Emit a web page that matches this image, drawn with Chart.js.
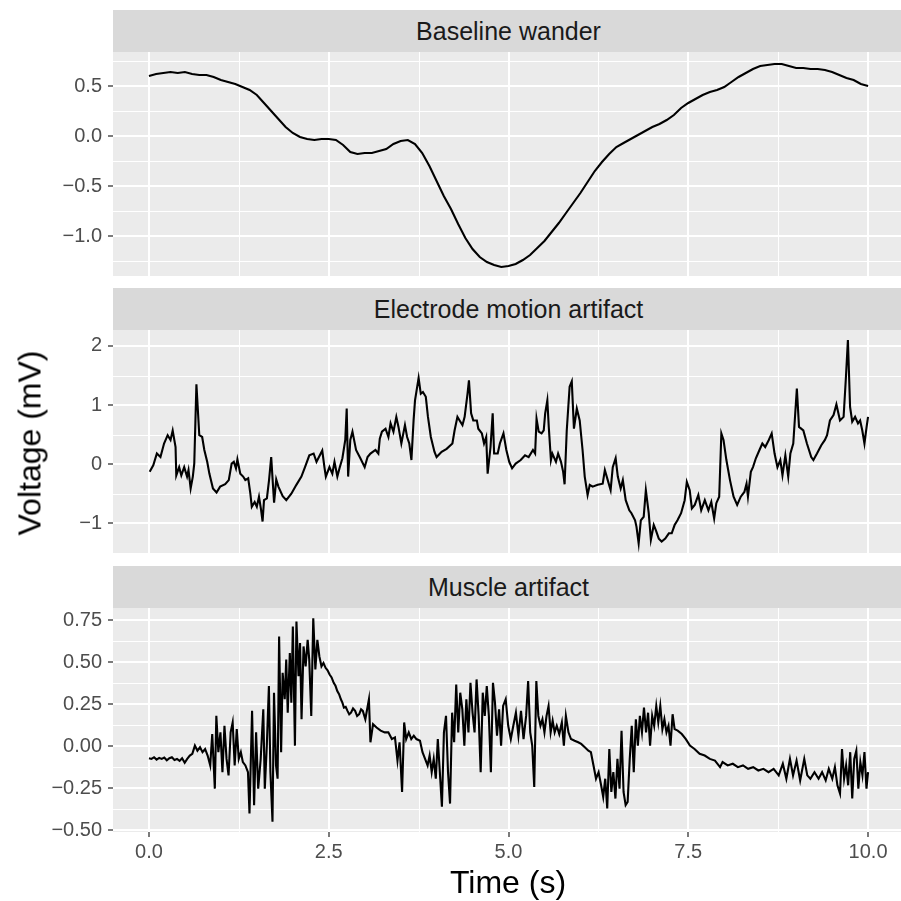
<!DOCTYPE html>
<html>
<head>
<meta charset="utf-8">
<script src="https://cdn.jsdelivr.net/npm/chart.js@4.4.1/dist/chart.umd.min.js"></script>
<style>
  body { margin: 0; width: 901px; height: 901px; overflow: hidden; background: #fff; position: relative;
         font-family: "Liberation Sans", Arial, sans-serif; }
  canvas { position: absolute; left: 0; }
  .strip { position: absolute; left: 113px; width: 791px; height: 42px; background: #D9D9D9; color: #1A1A1A;
           font-size: 25px; line-height: 42px; text-align: center; }
  .title { position: absolute; color: #000; font-size: 32px; white-space: nowrap; }
</style>
</head>
<body>
<div class="strip" style="top:10px">Baseline wander</div>
<canvas id="bwChart" width="904" height="224" style="top:52px"></canvas>
<div class="strip" style="top:288px">Electrode motion artifact</div>
<canvas id="emChart" width="904" height="224" style="top:330px"></canvas>
<div class="strip" style="top:566px">Muscle artifact</div>
<canvas id="msChart" width="904" height="260" style="top:608px"></canvas>
<div class="title" style="left:30px;top:443px;transform:translate(-50%,-50%) rotate(-90deg)">Voltage (mV)</div>
<div class="title" style="left:508px;top:882px;transform:translate(-50%,-50%)">Time (s)</div>
<script>
// x axis
const xTicks = [0, 2.5, 5, 7.5, 10];
const xMinor = [1.25, 3.75, 6.25, 8.75];

// Baseline wander
const bwTime = [
  0.0, 0.1, 0.2, 0.3, 0.4, 0.5, 0.6, 0.7, 0.8, 0.9,
  1.0, 1.1, 1.2, 1.3, 1.4, 1.5, 1.6, 1.7, 1.8, 1.9,
  2.0, 2.1, 2.2, 2.3, 2.4, 2.5, 2.6, 2.7, 2.8, 2.9,
  3.0, 3.1, 3.2, 3.3, 3.4, 3.5, 3.6, 3.7, 3.8, 3.9,
  4.0, 4.1, 4.2, 4.3, 4.4, 4.5, 4.6, 4.7, 4.8, 4.9,
  5.0, 5.1, 5.2, 5.3, 5.4, 5.5, 5.6, 5.7, 5.8, 5.9,
  6.0, 6.1, 6.2, 6.3, 6.4, 6.5, 6.6, 6.7, 6.8, 6.9,
  7.0, 7.1, 7.2, 7.3, 7.4, 7.5, 7.6, 7.7, 7.8, 7.9,
  8.0, 8.1, 8.2, 8.3, 8.4, 8.5, 8.6, 8.7, 8.8, 8.9,
  9.0, 9.1, 9.2, 9.3, 9.4, 9.5, 9.6, 9.7, 9.8, 9.9,
  10.0
];
const bwVolt = [
  0.60, 0.62, 0.63, 0.64, 0.63, 0.64, 0.62, 0.61, 0.61, 0.59,
  0.56, 0.54, 0.52, 0.49, 0.46, 0.41, 0.33, 0.25, 0.17, 0.09,
  0.03, -0.01, -0.03, -0.04, -0.03, -0.03, -0.04, -0.09, -0.16, -0.18,
  -0.17, -0.17, -0.15, -0.13, -0.08, -0.05, -0.04, -0.08, -0.17, -0.30,
  -0.45, -0.60, -0.73, -0.88, -1.02, -1.13, -1.21, -1.26, -1.29, -1.31,
  -1.30, -1.28, -1.24, -1.19, -1.12, -1.05, -0.96, -0.87, -0.77, -0.67,
  -0.57, -0.46, -0.35, -0.26, -0.18, -0.11, -0.07, -0.03, 0.01, 0.05,
  0.09, 0.12, 0.16, 0.21, 0.28, 0.33, 0.37, 0.41, 0.44, 0.46,
  0.49, 0.54, 0.59, 0.63, 0.67, 0.70, 0.71, 0.72, 0.72, 0.70,
  0.68, 0.68, 0.67, 0.67, 0.66, 0.64, 0.61, 0.58, 0.56, 0.52,
  0.50
];
const bwTicks = [-1, -0.5, 0, 0.5];
const bwMinor = [-1.25, -0.75, -0.25, 0.25, 0.75];

// Electrode motion artifact
const emTime = [
  0.01, 0.06, 0.11, 0.16, 0.21, 0.26, 0.30, 0.33, 0.37, 0.38,
  0.42, 0.45, 0.49, 0.53, 0.55, 0.58, 0.61, 0.63, 0.66, 0.70,
  0.74, 0.77, 0.81, 0.84, 0.89, 0.94, 0.99, 1.06, 1.11, 1.15,
  1.18, 1.21, 1.23, 1.27, 1.31, 1.34, 1.38, 1.41, 1.43, 1.47,
  1.50, 1.53, 1.56, 1.58, 1.60, 1.64, 1.67, 1.70, 1.72, 1.74,
  1.77, 1.80, 1.86, 1.91, 1.98, 2.05, 2.12, 2.17, 2.23, 2.29,
  2.33, 2.41, 2.44, 2.46, 2.51, 2.55, 2.58, 2.62, 2.65, 2.69,
  2.73, 2.75, 2.77, 2.80, 2.83, 2.88, 2.94, 3.00, 3.04, 3.08,
  3.15, 3.19, 3.21, 3.24, 3.29, 3.33, 3.36, 3.40, 3.44, 3.47,
  3.51, 3.56, 3.59, 3.62, 3.65, 3.68, 3.70, 3.75, 3.78, 3.81,
  3.85, 3.88, 3.92, 3.97, 4.00, 4.07, 4.14, 4.22, 4.25, 4.29,
  4.32, 4.36, 4.39, 4.43, 4.45, 4.48, 4.51, 4.56, 4.58, 4.63,
  4.66, 4.69, 4.71, 4.75, 4.78, 4.80, 4.85, 4.88, 4.93, 4.97,
  5.01, 5.05, 5.10, 5.17, 5.23, 5.28, 5.34, 5.37, 5.39, 5.42,
  5.46, 5.49, 5.51, 5.54, 5.56, 5.59, 5.61, 5.66, 5.69, 5.73,
  5.76, 5.78, 5.81, 5.85, 5.88, 5.91, 5.95, 5.99, 6.03, 6.06,
  6.10, 6.13, 6.17, 6.24, 6.31, 6.34, 6.38, 6.42, 6.45, 6.49,
  6.52, 6.56, 6.59, 6.63, 6.68, 6.71, 6.76, 6.78, 6.81, 6.84,
  6.88, 6.91, 6.95, 6.98, 7.02, 7.05, 7.09, 7.13, 7.18, 7.23,
  7.27, 7.31, 7.35, 7.40, 7.45, 7.48, 7.52, 7.55, 7.59, 7.64,
  7.68, 7.73, 7.78, 7.82, 7.86, 7.89, 7.93, 7.96, 7.99, 8.03,
  8.08, 8.13, 8.18, 8.23, 8.28, 8.31, 8.33, 8.37, 8.40, 8.44,
  8.49, 8.53, 8.57, 8.62, 8.66, 8.70, 8.74, 8.78, 8.81, 8.85,
  8.89, 8.92, 8.96, 9.01, 9.04, 9.10, 9.15, 9.21, 9.24, 9.29,
  9.35, 9.40, 9.43, 9.47, 9.52, 9.56, 9.61, 9.66, 9.69, 9.72,
  9.75, 9.78, 9.82, 9.86, 9.89, 9.92, 9.95, 9.98, 10.00
];
const emVolt = [
  -0.13, -0.02, 0.18, 0.12, 0.35, 0.49, 0.41, 0.57, 0.29, -0.19,
  -0.05, -0.19, -0.05, -0.21, -0.10, -0.41, -0.21, 0.01, 1.35, 0.49,
  0.46, 0.24, 0.04, -0.16, -0.41, -0.48, -0.38, -0.34, -0.27, 0.01,
  0.04, -0.07, 0.08, -0.16, -0.21, -0.27, -0.24, -0.50, -0.72, -0.64,
  -0.72, -0.55, -0.78, -0.97, -0.61, -0.58, -0.27, 0.12, -0.27, -0.65,
  -0.26, -0.38, -0.54, -0.61, -0.50, -0.35, -0.21, -0.05, 0.15, 0.18,
  0.04, 0.23, -0.05, -0.21, -0.05, -0.16, 0.04, -0.21, -0.07, 0.10,
  0.41, 0.94, -0.21, 0.41, 0.55, 0.24, 0.10, -0.05, 0.12, 0.18,
  0.24, 0.18, 0.43, 0.55, 0.60, 0.46, 0.69, 0.55, 0.80, 0.63,
  0.35, 0.66, 0.46, 0.35, 0.07, 0.74, 1.08, 1.46, 1.19, 1.22,
  1.14, 0.80, 0.46, 0.21, 0.12, 0.21, 0.26, 0.35, 0.57, 0.80,
  0.74, 0.66, 0.80, 1.19, 1.42, 0.86, 0.74, 0.74, 0.60, 0.52,
  0.35, 0.46, -0.16, 0.29, 0.86, 0.18, 0.18, 0.35, 0.52, 0.24,
  0.04, -0.07, 0.01, 0.07, 0.15, 0.12, 0.24, 0.18, 0.77, 0.55,
  0.52, 0.57, 0.86, 1.08, 0.63, 0.07, 0.18, 0.04, 0.18, 0.04,
  -0.13, -0.34, 0.57, 1.31, 1.40, 0.60, 0.94, 0.74, 0.24, -0.21,
  -0.52, -0.35, -0.38, -0.35, -0.33, -0.10, -0.27, -0.44, -0.05, 0.10,
  -0.21, -0.41, -0.27, -0.61, -0.78, -0.83, -0.95, -1.06, -1.34, -0.95,
  -0.89, -0.44, -0.83, -1.28, -1.03, -1.12, -1.26, -1.31, -1.26, -1.17,
  -1.17, -1.03, -0.95, -0.83, -0.61, -0.30, -0.44, -0.75, -0.69, -0.52,
  -0.78, -0.61, -0.78, -0.64, -0.92, -0.66, -0.55, 0.52, 0.41, 0.07,
  -0.27, -0.55, -0.69, -0.55, -0.47, -0.33, -0.55, -0.13, -0.05, 0.10,
  0.24, 0.35, 0.29, 0.41, 0.52, 0.18, -0.05, 0.07, -0.19, 0.15,
  -0.21, 0.18, 0.35, 1.28, 0.63, 0.57, 0.35, 0.12, 0.07, 0.18,
  0.32, 0.41, 0.49, 0.74, 0.83, 1.01, 0.74, 0.80, 1.42, 2.10,
  0.97, 0.72, 0.80, 0.69, 0.74, 0.57, 0.35, 0.63, 0.80
];
const emTicks = [-1, 0, 1, 2];
const emMinor = [-1.5, -0.5, 0.5, 1.5];

// Muscle artifact
const msTime = [
  0, 0.035, 0.071, 0.106, 0.142, 0.177, 0.213, 0.248, 0.284, 0.319,
  0.355, 0.39, 0.426, 0.461, 0.497, 0.532, 0.568, 0.603, 0.639, 0.674,
  0.71, 0.745, 0.781, 0.816, 0.852, 0.88, 0.916, 0.937, 0.965, 0.994,
  1.022, 1.05, 1.079, 1.107, 1.136, 1.164, 1.192, 1.221, 1.249, 1.278,
  1.306, 1.341, 1.377, 1.398, 1.434, 1.462, 1.49, 1.519, 1.554, 1.59,
  1.611, 1.639, 1.668, 1.689, 1.718, 1.739, 1.767, 1.789, 1.81, 1.838,
  1.859, 1.888, 1.909, 1.93, 1.959, 1.98, 2.001, 2.03, 2.051, 2.08,
  2.101, 2.122, 2.15, 2.179, 2.207, 2.229, 2.257, 2.285, 2.314, 2.342,
  2.37, 2.399, 2.427, 2.456, 2.484, 2.512, 2.54, 2.569, 2.594, 2.619,
  2.644, 2.669, 2.69, 2.711, 2.736, 2.761, 2.785, 2.81, 2.838, 2.867,
  2.895, 2.924, 2.95, 2.974, 3.009, 3.059, 3.08, 3.116, 3.165, 3.222,
  3.279, 3.329, 3.378, 3.421, 3.456, 3.485, 3.52, 3.549, 3.577, 3.613,
  3.648, 3.683, 3.719, 3.769, 3.804, 3.84, 3.875, 3.903, 3.932, 3.96,
  3.989, 4.017, 4.045, 4.074, 4.102, 4.131, 4.159, 4.187, 4.216, 4.244,
  4.273, 4.301, 4.329, 4.358, 4.386, 4.414, 4.443, 4.471, 4.5, 4.528,
  4.556, 4.585, 4.613, 4.642, 4.67, 4.698, 4.727, 4.755, 4.784, 4.812,
  4.84, 4.869, 4.897, 4.925, 4.961, 4.996, 5.032, 5.067, 5.103, 5.138,
  5.174, 5.209, 5.245, 5.273, 5.302, 5.33, 5.358, 5.387, 5.415, 5.444,
  5.472, 5.5, 5.529, 5.557, 5.586, 5.614, 5.642, 5.671, 5.706, 5.742,
  5.77, 5.798, 5.834, 5.869, 5.919, 5.969, 6.011, 6.061, 6.111, 6.146,
  6.182, 6.217, 6.253, 6.288, 6.317, 6.345, 6.373, 6.402, 6.43, 6.458,
  6.487, 6.515, 6.544, 6.572, 6.6, 6.629, 6.657, 6.686, 6.714, 6.742,
  6.771, 6.799, 6.827, 6.856, 6.884, 6.913, 6.941, 6.969, 6.998, 7.026,
  7.055, 7.083, 7.111, 7.14, 7.168, 7.197, 7.225, 7.253, 7.282, 7.31,
  7.353, 7.41, 7.466, 7.523, 7.587, 7.658, 7.729, 7.8, 7.871, 7.942,
  7.977, 8.048, 8.119, 8.19, 8.261, 8.332, 8.403, 8.474, 8.545, 8.616,
  8.687, 8.758, 8.815, 8.864, 8.914, 8.957, 9.006, 9.056, 9.113, 9.155,
  9.198, 9.255, 9.312, 9.361, 9.411, 9.454, 9.503, 9.539, 9.574, 9.61,
  9.638, 9.667, 9.695, 9.723, 9.752, 9.78, 9.808, 9.837, 9.865, 9.893,
  9.922, 9.95, 9.978, 10.0
];
const msVolt = [
  -0.071, -0.075, -0.065, -0.079, -0.069, -0.075, -0.067, -0.083, -0.071, -0.065,
  -0.081, -0.075, -0.087, -0.071, -0.098, -0.075, -0.055, -0.045, 0.004, -0.026,
  -0.006, -0.035, -0.016, -0.055, -0.114, 0.073, -0.252, 0.181, -0.035, 0.083,
  -0.154, 0.122, -0.075, -0.173, 0.083, 0.142, -0.114, 0.102, -0.075, -0.035,
  -0.094, -0.114, -0.154, -0.40, 0.211, -0.35, 0.083, -0.252, -0.075, 0.22,
  -0.252, 0.004, 0.358, -0.154, -0.449, 0.319, -0.114, -0.193, 0.654, -0.035,
  0.437, 0.28, 0.516, 0.20, 0.555, 0.26, 0.713, 0.004, 0.742, 0.417,
  0.614, 0.161, 0.594, 0.476, 0.634, 0.516, 0.181, 0.762, 0.457, 0.634,
  0.535, 0.476, 0.496, 0.467, 0.452, 0.427, 0.41, 0.378, 0.36, 0.329,
  0.31, 0.28, 0.26, 0.23, 0.235, 0.211, 0.19, 0.20, 0.225, 0.211,
  0.18, 0.191, 0.22, 0.211, 0.161, 0.28, 0.024, 0.132, 0.112, 0.093,
  0.083, 0.083, 0.043, 0.053, -0.085, 0.024, -0.272, 0.142, 0.043, 0.083,
  0.043, 0.063, 0.043, 0.033, -0.035, -0.075, -0.114, -0.055, -0.154, -0.075,
  -0.193, 0.043, -0.154, -0.36, 0.083, 0.181, -0.154, -0.341, 0.20, 0.024,
  0.368, 0.083, 0.319, 0.22, 0.004, 0.28, 0.083, 0.378, 0.20, 0.083,
  0.398, 0.181, -0.154, 0.319, 0.181, 0.358, 0.181, -0.154, 0.378, 0.26,
  0.063, 0.22, 0.004, 0.24, 0.28, 0.122, 0.043, 0.122, 0.20, 0.063,
  0.211, 0.043, 0.181, 0.388, 0.083, 0.004, -0.242, 0.388, 0.181, 0.122,
  0.161, 0.083, 0.181, 0.24, 0.083, 0.152, 0.083, 0.122, 0.073, 0.142,
  0.004, 0.181, 0.083, 0.043, 0.033, 0.024, 0.014, -0.006, -0.026, -0.035,
  -0.114, -0.193, -0.154, -0.232, -0.301, -0.193, -0.37, -0.016, -0.272, -0.154,
  -0.311, -0.075, -0.252, 0.093, -0.272, -0.35, -0.331, -0.075, 0.122, -0.154,
  0.161, 0.004, 0.181, 0.083, 0.23, 0.083, 0.20, 0.004, 0.181, 0.122,
  0.24, 0.142, 0.24, 0.102, 0.161, 0.083, 0.122, 0.004, 0.191, 0.102,
  0.093, 0.073, 0.043, 0.004, -0.016, -0.045, -0.055, -0.075, -0.085, -0.124,
  -0.094, -0.114, -0.104, -0.124, -0.114, -0.134, -0.124, -0.144, -0.134, -0.154,
  -0.134, -0.173, -0.104, -0.193, -0.075, -0.173, -0.085, -0.203, -0.075, -0.173,
  -0.193, -0.154, -0.193, -0.154, -0.203, -0.134, -0.193, -0.124, -0.232, -0.281,
  -0.016, -0.193, -0.114, -0.232, -0.035, -0.311, -0.075, -0.026, -0.252, -0.094,
  -0.173, -0.035, -0.252, -0.154
];
const msTicks = [-0.5, -0.25, 0, 0.25, 0.5, 0.75];
const msMinor = [-0.375, -0.125, 0.125, 0.375, 0.625];

const FONT = '"Liberation Sans", Arial, sans-serif';
const fmt = (v, d) => v.toFixed(d).replace('-', '\u2212');

// grey panel + thin minor grid, drawn under the major grid and the line
const panelBg = {
  id: 'panelBg',
  beforeDraw(chart, args, opts) {
    const { ctx, chartArea: a, scales: { x, y } } = chart;
    ctx.save();
    ctx.fillStyle = '#EBEBEB';
    ctx.fillRect(a.left, a.top, a.right - a.left, a.bottom - a.top);
    ctx.strokeStyle = '#FFFFFF';
    ctx.lineWidth = 1;
    ctx.beginPath();
    opts.xMinor.forEach(v => {
      const p = Math.round(x.getPixelForValue(v)) + 0.5;
      ctx.moveTo(p, a.top); ctx.lineTo(p, a.bottom);
    });
    opts.yMinor.forEach(v => {
      const p = Math.round(y.getPixelForValue(v)) + 0.5;
      ctx.moveTo(a.left, p); ctx.lineTo(a.right, p);
    });
    ctx.stroke();
    ctx.restore();
  }
};

function makePanel(id, times, volts, yMin, yMax, yTicks, yMinor, yDec, showX) {
  const tickFont = { family: FONT, size: 20 };
  new Chart(document.getElementById(id), {
    type: 'line',
    data: {
      datasets: [{
        data: times.map((t, i) => ({ x: t, y: volts[i] })),
        borderColor: '#000000',
        borderWidth: 2.1,
        pointRadius: 0,
        tension: 0,
        fill: false
      }]
    },
    options: {
      responsive: false,
      animation: false,
      devicePixelRatio: 1,
      layout: { padding: 0 },
      plugins: {
        legend: { display: false },
        tooltip: { enabled: false },
        panelBg: { xMinor, yMinor }
      },
      scales: {
        x: {
          type: 'linear',
          min: -0.5,
          max: 10.5,
          afterBuildTicks: s => { s.ticks = xTicks.map(v => ({ value: v })); },
          afterFit: s => { s.height = showX ? 36 : 0; s.paddingLeft = 0; s.paddingRight = 0; },
          grid: { color: '#FFFFFF', lineWidth: 2, drawTicks: showX, tickLength: 5, tickColor: '#333333', tickWidth: 1.3 },
          border: { display: false },
          ticks: { display: showX, autoSkip: false, maxRotation: 0, padding: 3, color: '#4D4D4D', font: tickFont,
                   callback: v => fmt(v, 1) }
        },
        y: {
          type: 'linear',
          min: yMin,
          max: yMax,
          afterBuildTicks: s => { s.ticks = yTicks.map(v => ({ value: v })); },
          afterFit: s => { s.width = 113; s.paddingTop = 0; s.paddingBottom = 0; },
          grid: { color: '#FFFFFF', lineWidth: 2, drawTicks: true, tickLength: 5, tickColor: '#333333', tickWidth: 1.3 },
          border: { display: false },
          ticks: { autoSkip: false, padding: 6, color: '#4D4D4D', font: tickFont,
                   callback: v => fmt(v, yDec) }
        }
      }
    },
    plugins: [panelBg]
  });
}

makePanel('bwChart', bwTime, bwVolt, -1.40, 0.84, bwTicks, bwMinor, 1, false);
makePanel('emChart', emTime, emVolt, -1.52, 2.27, emTicks, emMinor, 0, false);
makePanel('msChart', msTime, msVolt, -0.51, 0.823, msTicks, msMinor, 2, true);
</script>
</body>
</html>
